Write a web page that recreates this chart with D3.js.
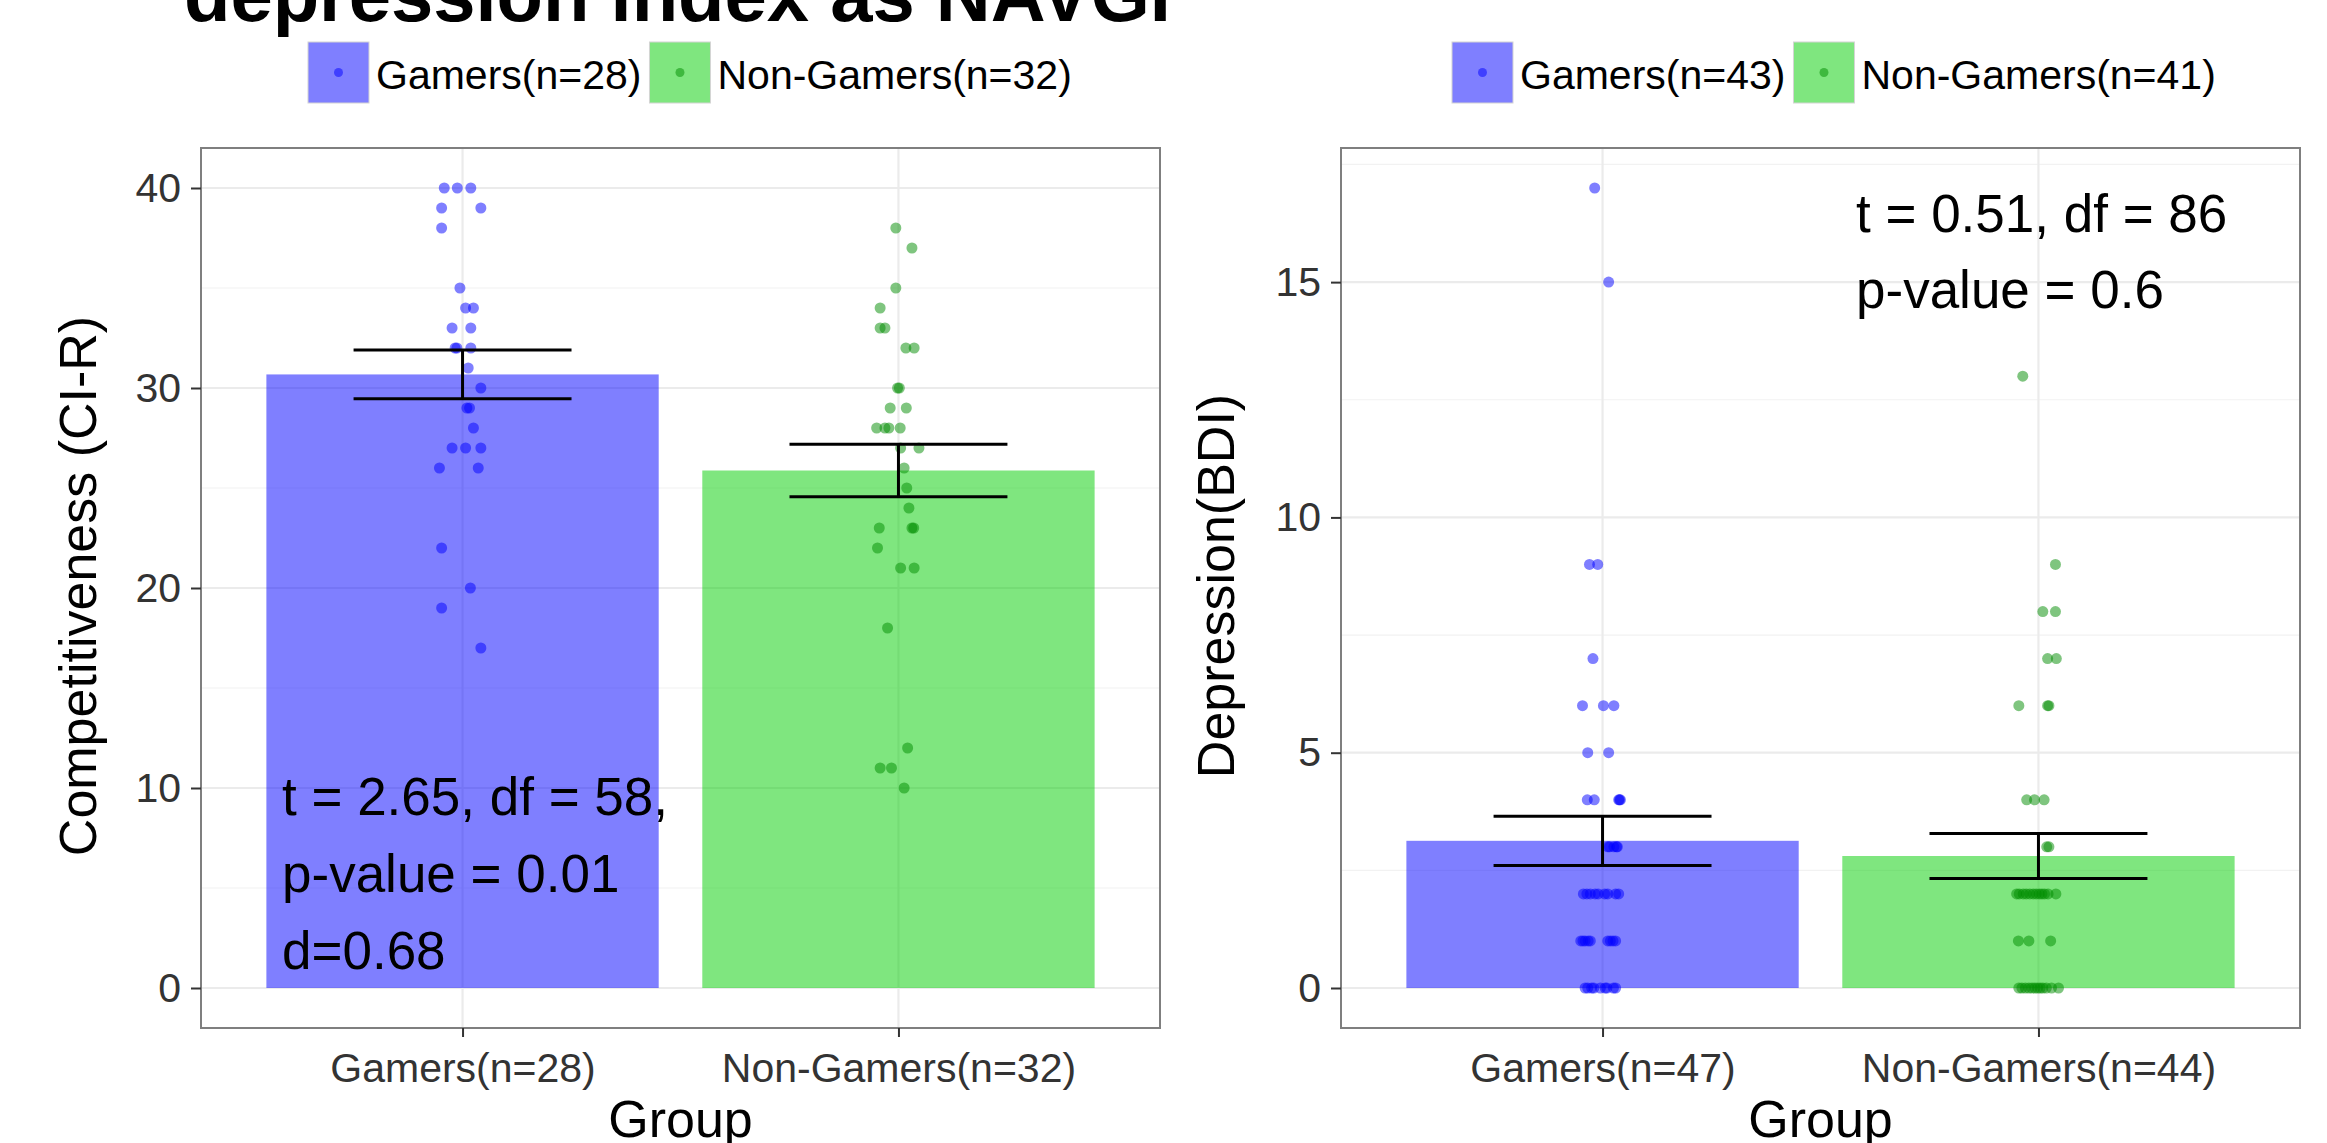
<!DOCTYPE html>
<html>
<head>
<meta charset="utf-8">
<script src="https://cdn.jsdelivr.net/npm/d3@7"></script>
<style>
  body { margin: 0; background: #fff; }
  svg { display: block; }
  text { font-family: "Liberation Sans", Arial, Helvetica, sans-serif; }
</style>
</head>
<body>
<svg id="chart" width="2327" height="1143"></svg>
<script>
// ---- Competitiveness (CI-R) panel ----
const ciCategories = ["Gamers(n=28)", "Non-Gamers(n=32)"];
const ciLegend = ["Gamers(n=28)", "Non-Gamers(n=32)"];
const ciTicks = [0, 10, 20, 30, 40];
const ciGamers = [40, 40, 40, 39, 39, 38, 35, 34, 34, 33, 33, 32, 32, 32, 31, 30, 29, 29, 28, 27, 27, 27, 26, 26, 22, 20, 19, 17];
const ciGamersJitter = [-0.042, -0.012, 0.019, -0.048, 0.042, -0.048, -0.006, 0.007, 0.025, -0.024, 0.019, -0.017, -0.013, 0.019, 0.013, 0.042, 0.010, 0.016, 0.025, -0.024, 0.007, 0.042, -0.053, 0.036, -0.048, 0.018, -0.048, 0.042];
const ciNonGamers = [38, 37, 35, 34, 33, 33, 32, 32, 30, 30, 29, 29, 28, 28, 28, 28, 27, 27, 26, 25, 24, 23, 23, 23, 22, 21, 21, 18, 12, 11, 11, 10];
const ciNonGamersJitter = [-0.006, 0.031, -0.006, -0.042, -0.042, -0.031, 0.017, 0.036, -0.002, 0.002, -0.019, 0.018, -0.050, -0.031, -0.022, 0.004, 0.005, 0.047, 0.013, 0.019, 0.024, -0.044, 0.031, 0.035, -0.048, 0.005, 0.036, -0.025, 0.021, -0.042, -0.016, 0.013];
const ciNotes = ["t = 2.65, df = 58,", "p-value = 0.01", "d=0.68"];

// ---- Depression (BDI) panel ----
const bdiCategories = ["Gamers(n=47)", "Non-Gamers(n=44)"];
const bdiLegend = ["Gamers(n=43)", "Non-Gamers(n=41)"];
const bdiTicks = [0, 5, 10, 15];
const bdiGamers = [17, 15, 9, 9, 7, 6, 6, 6, 5, 5,
  4, 4, 4, 4, 4, 3, 3, 3, 3, 3,
  2, 2, 2, 2, 2, 2, 2, 2, 2,
  1, 1, 1, 1, 1, 1, 1, 1, 1,
  0, 0, 0, 0, 0, 0, 0, 0, 0];
const bdiGamersJitter = [-0.018, 0.014, -0.030, -0.011, -0.022, -0.046, 0.002, 0.026, -0.034, 0.014,
  -0.035, -0.019, 0.037, 0.039, 0.041, 0.012, 0.016, 0.026, 0.032, 0.034,
  -0.044, -0.036, -0.028, -0.017, -0.010, 0.005, 0.012, 0.030, 0.037,
  -0.050, -0.045, -0.040, -0.033, -0.028, 0.012, 0.018, 0.024, 0.030,
  -0.040, -0.034, -0.025, -0.020, -0.005, 0.006, 0.010, 0.025, 0.030];
const bdiNonGamers = [13, 9, 8, 8, 7, 7, 6, 6, 6, 4, 4, 4, 3, 3,
  2, 2, 2, 2, 2, 2, 2, 2, 2, 2, 2, 2,
  1, 1, 1,
  0, 0, 0, 0, 0, 0, 0, 0, 0, 0, 0, 0];
const bdiNonGamersJitter = [-0.036, 0.039, 0.010, 0.039, 0.021, 0.041, -0.045, 0.021, 0.024, -0.027, -0.009, 0.013, 0.019, 0.024,
  -0.050, -0.044, -0.035, -0.028, -0.020, -0.012, -0.005, 0.002, 0.008, 0.014, 0.022, 0.040,
  -0.046, -0.022, 0.028,
  -0.045, -0.038, -0.030, -0.022, -0.015, -0.008, -0.002, 0.004, 0.010, 0.018, 0.030, 0.046];
const bdiNotes = ["t = 0.51, df = 86", "p-value = 0.6"];

const titleText = "depression index as NAVGI";
const xTitle = "Group";

// ---- styling ----
const barFills = ["#0000ff", "#00cd00"];
const pointFills = ["#0000ff", "#008b00"];
const tickColor = "#333333";

const svg = d3.select("#chart");

function drawPanel(cfg) {
  const { left, right, top, bottom } = cfg.box;
  const g = svg.append("g");

  const x = d3.scalePoint().domain(cfg.categories).range([left, right]).padding(0.6);
  const step = x.step();

  const allVals = cfg.groups.flatMap(d => d.values);
  const lo = Math.min(0, d3.min(allVals)), hi = d3.max(allVals);
  const pad = (hi - lo) * 0.05;
  const y = d3.scaleLinear().domain([lo - pad, hi + pad]).range([bottom, top]);

  // minor grid between major breaks
  const t = cfg.ticks, dt = t[1] - t[0];
  const minors = [t[0] - dt / 2, ...t.map(v => v + dt / 2)].filter(v => v > y.domain()[0] && v < y.domain()[1]);
  g.append("g").selectAll("line").data(minors).join("line")
    .attr("x1", left).attr("x2", right)
    .attr("y1", d => y(d)).attr("y2", d => y(d))
    .attr("stroke", "#f2f2f2").attr("stroke-width", 1.2);
  g.append("g").selectAll("line").data(t).join("line")
    .attr("x1", left).attr("x2", right)
    .attr("y1", d => y(d)).attr("y2", d => y(d))
    .attr("stroke", "#ebebeb").attr("stroke-width", 2.2);
  g.append("g").selectAll("line").data(cfg.categories).join("line")
    .attr("x1", d => x(d)).attr("x2", d => x(d))
    .attr("y1", top).attr("y2", bottom)
    .attr("stroke", "#ebebeb").attr("stroke-width", 2.2);

  const stats = cfg.groups.map((gr, i) => {
    const m = d3.mean(gr.values);
    const s = d3.deviation(gr.values) / Math.sqrt(gr.values.length);
    return { cat: cfg.categories[i], mean: m, se: s, i };
  });

  // bars (mean)
  g.append("g").selectAll("rect").data(stats).join("rect")
    .attr("x", d => x(d.cat) - 0.45 * step)
    .attr("width", 0.9 * step)
    .attr("y", d => y(d.mean))
    .attr("height", d => y(0) - y(d.mean))
    .attr("fill", d => barFills[d.i]).attr("fill-opacity", 0.5);

  // jittered observations
  cfg.groups.forEach((gr, i) => {
    const pts = gr.values.map((v, k) => ({ v, j: gr.jitter[k] }));
    g.append("g").selectAll("circle").data(pts).join("circle")
      .attr("cx", d => x(cfg.categories[i]) + d.j * step)
      .attr("cy", d => y(d.v))
      .attr("r", 5.5)
      .attr("fill", pointFills[i]).attr("fill-opacity", 0.5);
  });

  // error bars (mean ± SE)
  const eb = g.append("g").attr("stroke", "#000").attr("stroke-width", 3).attr("fill", "none");
  stats.forEach(d => {
    const cx = x(d.cat), hw = 0.25 * step;
    const yt = y(d.mean + d.se), yb = y(d.mean - d.se);
    eb.append("line").attr("x1", cx - hw).attr("x2", cx + hw).attr("y1", yt).attr("y2", yt);
    eb.append("line").attr("x1", cx - hw).attr("x2", cx + hw).attr("y1", yb).attr("y2", yb);
    eb.append("line").attr("x1", cx).attr("x2", cx).attr("y1", yt).attr("y2", yb);
  });

  // statistics note
  const note = g.append("g").attr("font-size", 53).attr("fill", "#000");
  cfg.notes.forEach((s, k) => {
    note.append("text").attr("x", cfg.noteX).attr("y", cfg.noteY + k * cfg.noteGap).text(s);
  });

  // panel border
  g.append("rect").attr("x", left).attr("y", top)
    .attr("width", right - left).attr("height", bottom - top)
    .attr("fill", "none").attr("stroke", "#7f7f7f").attr("stroke-width", 2);

  // axes
  const ya = g.append("g").attr("transform", `translate(${left},0)`)
    .call(d3.axisLeft(y).tickValues(cfg.ticks).tickSize(10).tickPadding(10));
  const xa = g.append("g").attr("transform", `translate(0,${bottom})`)
    .call(d3.axisBottom(x).tickSize(9).tickPadding(16));
  [ya, xa].forEach(a => {
    a.select(".domain").remove();
    a.selectAll(".tick line").attr("stroke", tickColor).attr("stroke-width", 2);
    a.selectAll(".tick text").attr("fill", tickColor).attr("font-size", 41)
      .attr("font-family", '"Liberation Sans", Arial, sans-serif');
  });

  // axis titles
  g.append("text").attr("x", (left + right) / 2).attr("y", 1137)
    .attr("text-anchor", "middle").attr("font-size", 52).attr("fill", "#000").text(xTitle);
  g.append("text")
    .attr("transform", `translate(${cfg.yTitleX},586) rotate(-90)`)
    .attr("text-anchor", "middle").attr("font-size", 52).attr("fill", "#000").text(cfg.yTitle);

  // legend
  const lg = svg.append("g");
  let cx = cfg.legendX;
  cfg.legend.forEach((lab, i) => {
    lg.append("rect").attr("x", cx).attr("y", 42).attr("width", 61).attr("height", 61)
      .attr("fill", barFills[i]).attr("fill-opacity", 0.5)
      .attr("stroke", "#d4d4d4").attr("stroke-width", 1);
    lg.append("circle").attr("cx", cx + 30.5).attr("cy", 72.5).attr("r", 4.5)
      .attr("fill", pointFills[i]).attr("fill-opacity", 0.5);
    const tx = lg.append("text").attr("x", cx + 68).attr("y", 89)
      .attr("font-size", 41).attr("fill", "#000").text(lab);
    cx += 68 + tx.node().getComputedTextLength() + 8;
  });
}

drawPanel({
  box: { left: 201, right: 1160, top: 148, bottom: 1028 },
  categories: ciCategories,
  legend: ciLegend,
  ticks: ciTicks,
  groups: [
    { values: ciGamers, jitter: ciGamersJitter },
    { values: ciNonGamers, jitter: ciNonGamersJitter }
  ],
  notes: ciNotes, noteX: 282, noteY: 815, noteGap: 77,
  yTitle: "Competitiveness (CI-R)", yTitleX: 96,
  legendX: 308
});

drawPanel({
  box: { left: 1341, right: 2300, top: 148, bottom: 1028 },
  categories: bdiCategories,
  legend: bdiLegend,
  ticks: bdiTicks,
  groups: [
    { values: bdiGamers, jitter: bdiGamersJitter },
    { values: bdiNonGamers, jitter: bdiNonGamersJitter }
  ],
  notes: bdiNotes, noteX: 1856, noteY: 232, noteGap: 76,
  yTitle: "Depression(BDI)", yTitleX: 1234,
  legendX: 1452
});

// figure title, partly above the page edge
svg.append("text").attr("x", 184).attr("y", 21)
  .attr("font-size", 76).attr("font-weight", "bold").attr("fill", "#000")
  .text(titleText);
</script>
</body>
</html>
